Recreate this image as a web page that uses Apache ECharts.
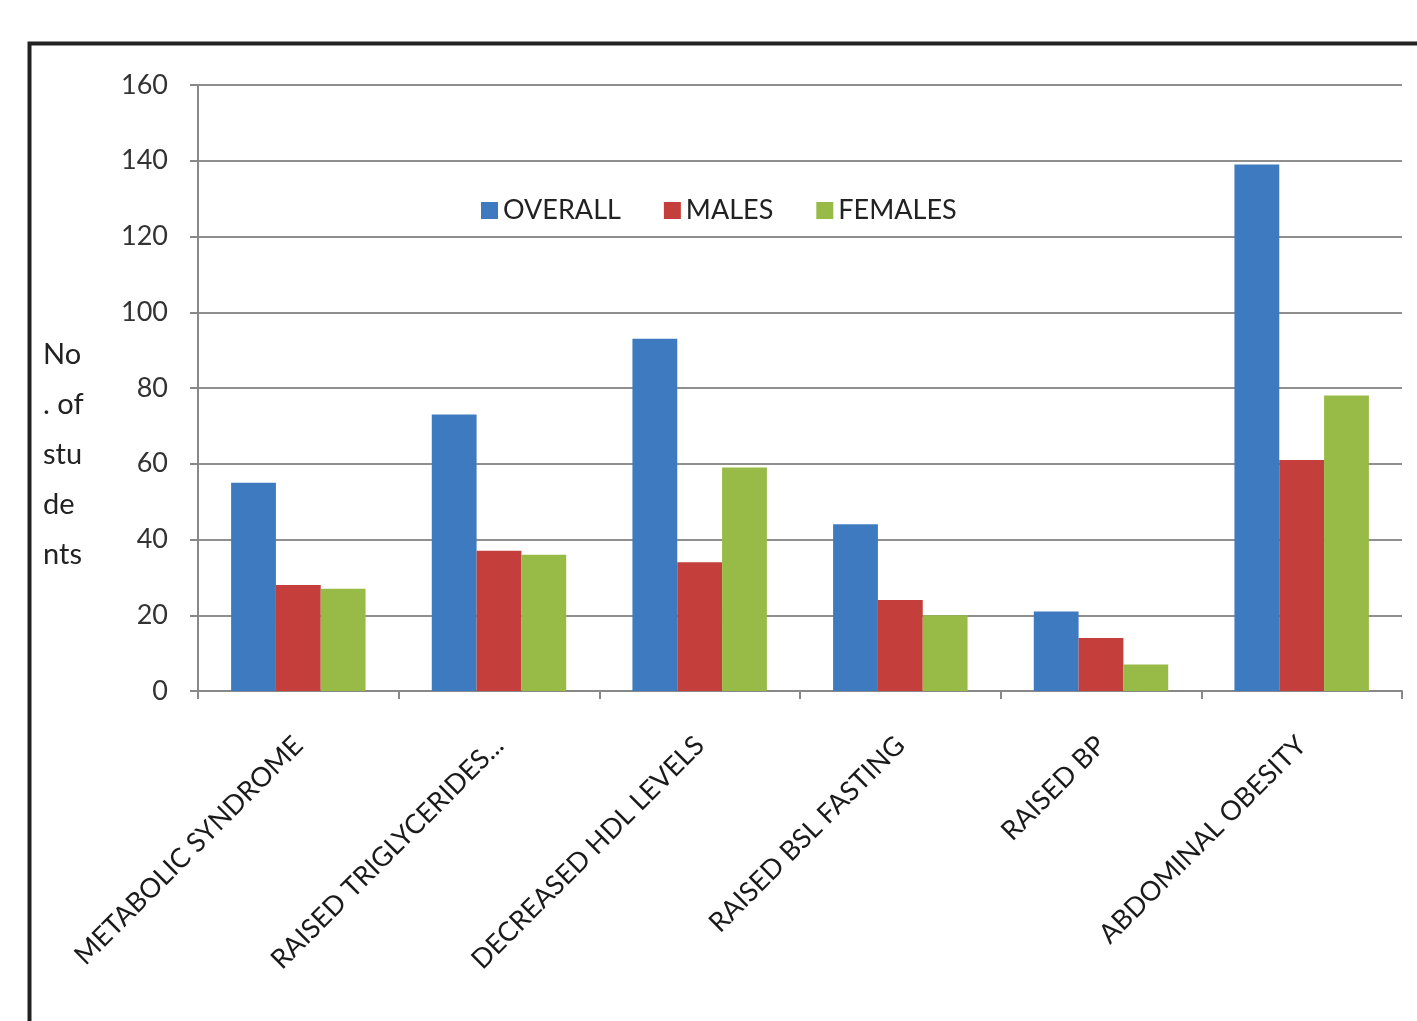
<!DOCTYPE html>
<html>
<head>
<meta charset="utf-8">
<script src="https://cdn.jsdelivr.net/npm/echarts@6/dist/echarts.min.js"></script>
<style>
  html, body { margin: 0; padding: 0; background: #fff; }
  #chart { width: 1417px; height: 1021px; }
</style>
</head>
<body>
<div id="chart"></div>
<script>
// chart data
const categories = ['METABOLIC SYNDROME', 'RAISED TRIGLYCERIDES...', 'DECREASED HDL LEVELS',
  'RAISED BSL FASTING', 'RAISED BP', 'ABDOMINAL OBESITY'];
const overall = [55, 73, 93, 44, 21, 139];
const males = [28, 37, 34, 24, 14, 61];
const females = [27, 36, 59, 20, 7, 78];
const yTitleLines = ['No', '. of', 'stu', 'de', 'nts'];

const font = 'Lato, "Open Sans", sans-serif';
const chart = echarts.init(document.getElementById('chart'));

const option = {
  animation: false,
  backgroundColor: '#fff',
  textStyle: { fontFamily: font },
  grid: { left: 198, right: 15, top: 85, bottom: 330, containLabel: false },
  legend: {
    top: 192,
    left: 476,
    itemWidth: 17,
    itemHeight: 17,
    itemGap: 43,
    icon: 'rect',
    textStyle: { fontSize: 27, color: '#222', fontFamily: font },
    data: ['OVERALL', 'MALES', 'FEMALES']
  },
  xAxis: {
    type: 'category',
    data: categories,
    axisLine: { lineStyle: { color: '#888', width: 2 } },
    axisTick: { show: true, length: 8, lineStyle: { color: '#888', width: 2 } },
    axisLabel: {
      rotate: 45,
      fontSize: 27,
      color: '#1a1a1a',
      margin: 50,
      fontFamily: font
    }
  },
  yAxis: {
    type: 'value',
    min: 0,
    max: 160,
    interval: 20,
    axisLine: { show: true, lineStyle: { color: '#888', width: 2 } },
    axisTick: { show: true, length: 8, lineStyle: { color: '#888', width: 2 } },
    axisLabel: { fontSize: 27, color: '#333', margin: 30, fontFamily: font },
    splitLine: { lineStyle: { color: '#8f8f8f', width: 2 } }
  },
  graphic: [
    {
      type: 'rect',
      shape: { x: 29.5, y: 43.5, width: 1500, height: 1100 },
      style: { fill: 'none', stroke: '#222', lineWidth: 4 },
      silent: true
    },
    {
      type: 'text',
      left: 43,
      top: 330,
      style: {
        text: yTitleLines.join('\n'),
        fontSize: 29,
        lineHeight: 50,
        fill: '#222',
        fontFamily: font
      }
    }
  ],
  series: [
    { name: 'OVERALL', type: 'bar', data: overall, barGap: '0%', barCategoryGap: '33%',
      itemStyle: { color: '#3E7AC0' } },
    { name: 'MALES', type: 'bar', data: males, barGap: '0%', barCategoryGap: '33%',
      itemStyle: { color: '#C43E3C' } },
    { name: 'FEMALES', type: 'bar', data: females, barGap: '0%', barCategoryGap: '33%',
      itemStyle: { color: '#98BB48' } }
  ]
};

chart.setOption(option);
</script>
</body>
</html>
